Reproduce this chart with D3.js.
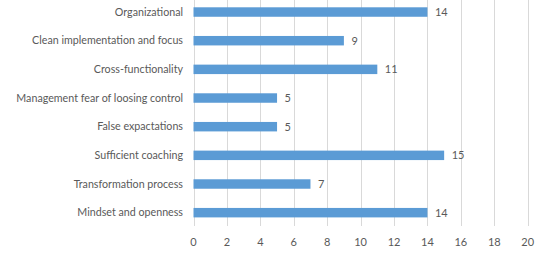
<!DOCTYPE html>
<html>
<head>
<meta charset="utf-8">
<script src="https://cdn.jsdelivr.net/npm/d3@7"></script>
<style>
body { margin: 0; background: #fff; }
text { font-family: Lato, sans-serif; fill: #595959; }
</style>
</head>
<body>
<script>
var width = 545, height = 255;

var categories = ["Organizational", "Clean implementation and focus", "Cross-functionality",
    "Management fear of loosing control", "False expactations", "Sufficient coaching",
    "Transformation process", "Mindset and openness"];
var values = [14, 9, 11, 5, 5, 15, 7, 14];
var ticks = [0, 2, 4, 6, 8, 10, 12, 14, 16, 18, 20];

var svg = d3.select("body").append("svg")
    .attr("width", width).attr("height", height);

var x = d3.scaleLinear().domain([0, 20]).range([193.5, 527.7]);
var y = d3.scaleBand().domain(categories).range([-2.3, 227]).paddingInner(0.67).paddingOuter(0.335);

// gridlines
svg.append("g").selectAll("line").data(ticks).enter().append("line")
    .attr("x1", function(d){return Math.round(x(d)) + 0.5;})
    .attr("x2", function(d){return Math.round(x(d)) + 0.5;})
    .attr("y1", 0).attr("y2", 226)
    .attr("stroke", "#d9d9d9").attr("stroke-width", 1);

// tick labels
svg.append("g").selectAll("text").data(ticks).enter().append("text")
    .attr("x", function(d){return x(d);})
    .attr("y", 246)
    .attr("text-anchor", "middle")
    .style("font-size", "11px")
    .text(function(d){return d;});

var data = categories.map(function(c, i){return {name: c, value: values[i]};});

svg.append("g").selectAll("rect").data(data).enter().append("rect")
    .attr("x", x(0))
    .attr("y", function(d){return y(d.name);})
    .attr("width", function(d){return x(d.value) - x(0);})
    .attr("height", y.bandwidth())
    .attr("fill", "#5b9bd5");

// value labels
svg.append("g").selectAll("text").data(data).enter().append("text")
    .attr("x", function(d){return x(d.value) + 7.5;})
    .attr("y", function(d){return y(d.name) + y.bandwidth() / 2;})
    .attr("dy", "0.35em")
    .style("font-size", "11px")
    .text(function(d){return d.value;});

// category labels
svg.append("g").selectAll("text").data(data).enter().append("text")
    .attr("x", 183)
    .attr("y", function(d){return y(d.name) + y.bandwidth() / 2;})
    .attr("dy", "0.35em")
    .attr("text-anchor", "end")
    .style("font-size", "10.7px")
    .text(function(d){return d.name;});
</script>
</body>
</html>
